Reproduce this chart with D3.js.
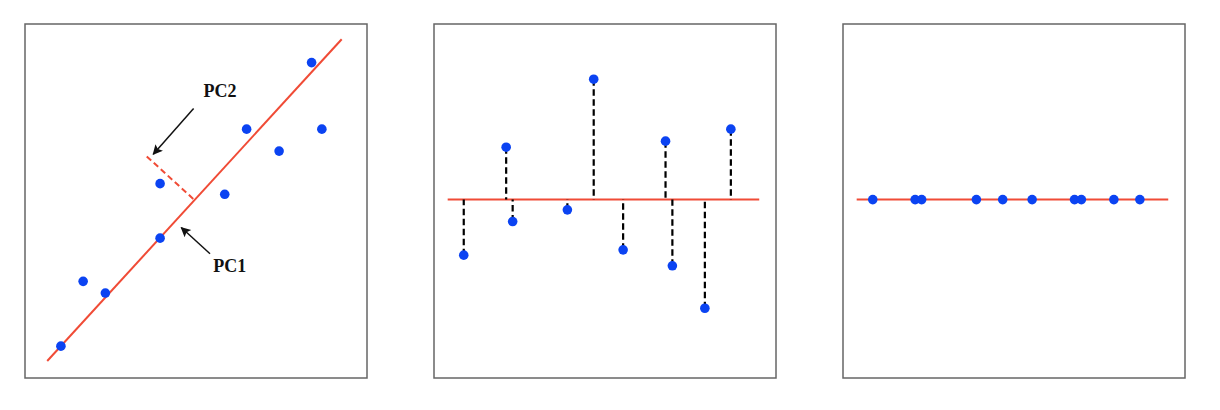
<!DOCTYPE html>
<html>
<head>
<meta charset="utf-8">
<script src="https://cdn.jsdelivr.net/npm/d3@7"></script>
<style>
  html, body { margin: 0; padding: 0; background: #fff; }
  svg { display: block; }
</style>
</head>
<body>
<svg id="chart" width="1220" height="410"></svg>
<script>
// ---------- data (values in a 0..100 data space per panel) ----------
// Panel 1: raw 2-D points
const rawX = [10.5, 17.0, 23.5, 39.5, 39.5, 58.4, 64.8, 74.3, 83.8, 86.8];
const rawY = [9.0, 27.3, 24.0, 39.5, 54.9, 51.9, 70.3, 64.1, 89.1, 70.3];
// First principal axis (PC1) end points
const pc1LineX = [6.5, 92.6];
const pc1LineY = [4.8, 95.7];
// Second axis stub (PC2, dashed)
const pc2LineX = [35.6, 49.3];
const pc2LineY = [62.6, 50.5];
// Annotation arrows: [fromX, fromY, toX, toY]
const arrowPC2 = [49.3, 76.1, 37.5, 63.2];
const arrowPC1 = [54.1, 35.1, 45.7, 42.5];
const labelNames = ["PC2", "PC1"];
const labelX = [57.0, 59.9];
const labelY = [79.4, 29.9];

// Panel 2: points in PC space (PC1 score, PC2 score)
const scoreX = [8.7, 21.1, 23.0, 39.0, 46.7, 55.3, 67.7, 69.7, 79.2, 86.8];
const scoreY = [34.7, 65.2, 44.2, 47.5, 84.4, 36.2, 66.9, 31.7, 19.7, 70.3];
const axisBase = 50.4;          // PC1 axis level in the rotated panels
const axisLineX = [4.0, 95.1];

// Panel 3: projection onto PC1 only (PC2 score dropped)
const projX = scoreX;

// ---------- layout ----------
const svg = d3.select("#chart");
const panelW = 342, panelH = 354, panelTop = 24;
const panelLeft = [25, 434, 843];
const red = "#f04b36", blue = "#0b43f2", frameCol = "#666";

svg.append("defs").append("marker")
  .attr("id", "arrow")
  .attr("viewBox", "0 0 10 10")
  .attr("refX", 9).attr("refY", 5)
  .attr("markerWidth", 14).attr("markerHeight", 10)
  .attr("markerUnits", "userSpaceOnUse")
  .attr("orient", "auto")
  .append("path").attr("d", "M0,0 L10,5 L0,10 L2,5 Z").attr("fill", "#111");

function makePanel(i) {
  const x = d3.scaleLinear().domain([0, 100]).range([panelLeft[i], panelLeft[i] + panelW]);
  const y = d3.scaleLinear().domain([0, 100]).range([panelTop + panelH, panelTop]);
  const g = svg.append("g");
  g.append("rect")
    .attr("x", panelLeft[i]).attr("y", panelTop)
    .attr("width", panelW).attr("height", panelH)
    .attr("fill", "none").attr("stroke", frameCol).attr("stroke-width", 1.5);
  return { g, x, y };
}

// ----- Panel 1 -----
{
  const { g, x, y } = makePanel(0);
  g.append("line")
    .attr("x1", x(pc1LineX[0])).attr("y1", y(pc1LineY[0]))
    .attr("x2", x(pc1LineX[1])).attr("y2", y(pc1LineY[1]))
    .attr("stroke", red).attr("stroke-width", 2);
  g.append("line")
    .attr("x1", x(pc2LineX[0])).attr("y1", y(pc2LineY[0]))
    .attr("x2", x(pc2LineX[1])).attr("y2", y(pc2LineY[1]))
    .attr("stroke", red).attr("stroke-width", 2).attr("stroke-dasharray", "6,3.5");
  [arrowPC2, arrowPC1].forEach(a => {
    g.append("line")
      .attr("x1", x(a[0])).attr("y1", y(a[1]))
      .attr("x2", x(a[2])).attr("y2", y(a[3]))
      .attr("stroke", "#111").attr("stroke-width", 1.5)
      .attr("marker-end", "url(#arrow)");
  });
  g.selectAll("text.lab").data(labelNames).enter().append("text")
    .attr("class", "lab")
    .attr("x", (d, k) => x(labelX[k])).attr("y", (d, k) => y(labelY[k]))
    .attr("text-anchor", "middle")
    .attr("font-family", "'Liberation Serif', 'DejaVu Serif', serif")
    .attr("font-weight", "bold").attr("font-size", 18)
    .attr("fill", "#111")
    .text(d => d);
  g.selectAll("circle").data(rawX).enter().append("circle")
    .attr("cx", d => x(d)).attr("cy", (d, k) => y(rawY[k]))
    .attr("r", 4.8).attr("fill", blue);
}

// ----- Panel 2 -----
{
  const { g, x, y } = makePanel(1);
  g.append("line")
    .attr("x1", x(axisLineX[0])).attr("y1", y(axisBase))
    .attr("x2", x(axisLineX[1])).attr("y2", y(axisBase))
    .attr("stroke", red).attr("stroke-width", 2);
  g.selectAll("line.drop").data(scoreX).enter().append("line")
    .attr("class", "drop")
    .attr("x1", d => x(d)).attr("x2", d => x(d))
    .attr("y1", (d, k) => y(scoreY[k])).attr("y2", y(axisBase))
    .attr("stroke", "#000").attr("stroke-width", 2.2).attr("stroke-dasharray", "6.5,3.5");
  g.selectAll("circle").data(scoreX).enter().append("circle")
    .attr("cx", d => x(d)).attr("cy", (d, k) => y(scoreY[k]))
    .attr("r", 4.8).attr("fill", blue);
}

// ----- Panel 3 -----
{
  const { g, x, y } = makePanel(2);
  g.append("line")
    .attr("x1", x(axisLineX[0])).attr("y1", y(axisBase))
    .attr("x2", x(axisLineX[1])).attr("y2", y(axisBase))
    .attr("stroke", red).attr("stroke-width", 2);
  g.selectAll("circle").data(projX).enter().append("circle")
    .attr("cx", d => x(d)).attr("cy", y(axisBase))
    .attr("r", 4.8).attr("fill", blue);
}
</script>
</body>
</html>
